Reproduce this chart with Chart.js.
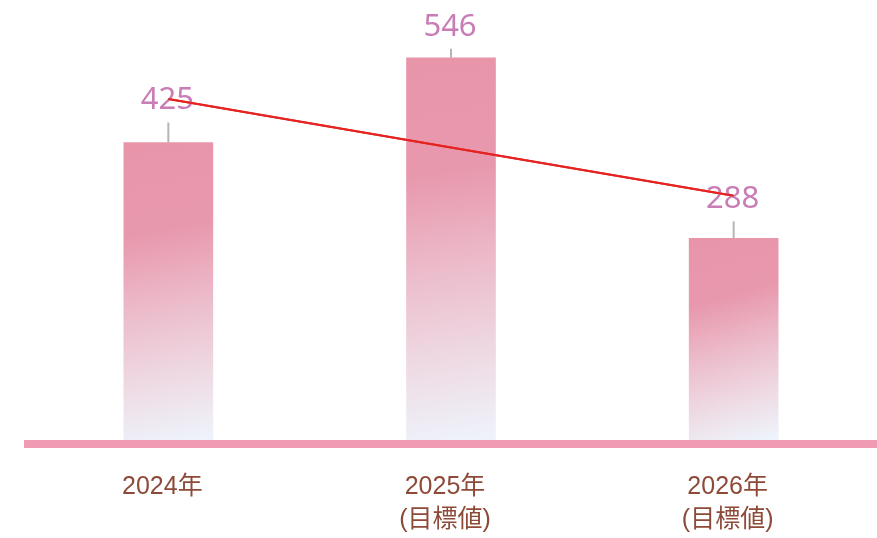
<!DOCTYPE html>
<html>
<head>
<meta charset="utf-8">
<script src="https://cdn.jsdelivr.net/npm/chart.js@4.4.1/dist/chart.umd.min.js"></script>
<style>
  html, body { margin: 0; padding: 0; background: #fff; }
  #wrap { width: 877px; height: 538px; }
</style>
</head>
<body>
<div id="wrap"><canvas id="chart"></canvas></div>
<script>
// データ
const categories = [['2024年'], ['2025年', '(目標値)'], ['2026年', '(目標値)']];
const barValues = [425, 546, 288];
const trendValues = [487, 418, 349];

// ラベル用の目盛り線の長さ（px）
const tickLengths = [20, 9, 17];

// 棒ごとのグラデーション（スケールから位置を計算）
function barGradient(context) {
    const chart = context.chart;
    const xs = chart.scales.x;
    const ys = chart.scales.y;
    if (!xs || !ys || context.dataIndex === undefined) return '#e896ab';
    const x = xs.getPixelForValue(context.dataIndex);
    const top = ys.getPixelForValue(barValues[context.dataIndex]);
    const bottom = ys.getPixelForValue(0);
    if (!isFinite(top) || !isFinite(x)) return '#e896ab';
    const g = chart.ctx.createLinearGradient(x - 30, top, x + 30, bottom);
    g.addColorStop(0, '#e895aa');
    g.addColorStop(0.3, '#e898ad');
    g.addColorStop(0.55, '#ecbccb');
    g.addColorStop(0.8, '#eedce5');
    g.addColorStop(1, '#eef3fb');
    return g;
}

// X軸の太いピンク線
const axisLine = {
    id: 'axisLine',
    beforeDatasetsDraw(chart) {
        const ctx = chart.ctx;
        const y = chart.scales.y.getPixelForValue(0);
        ctx.save();
        ctx.fillStyle = '#f09bb4';
        ctx.fillRect(24, y, chart.width - 24, 8);
        ctx.restore();
    }
};

// 値ラベルと目盛り線
const valueLabels = {
    id: 'valueLabels',
    afterDatasetsDraw(chart) {
        const ctx = chart.ctx;
        const meta = chart.getDatasetMeta(0);
        ctx.save();
        meta.data.forEach((bar, i) => {
            const tickTop = bar.y - tickLengths[i];
            ctx.strokeStyle = '#b5b5b5';
            ctx.lineWidth = 2;
            ctx.beginPath();
            ctx.moveTo(bar.x, bar.y);
            ctx.lineTo(bar.x, tickTop);
            ctx.stroke();
            ctx.fillStyle = '#c97db6';
            ctx.font = '31px "Noto Sans", sans-serif';
            ctx.textAlign = 'center';
            ctx.textBaseline = 'middle';
            ctx.fillText(barValues[i], bar.x - 1, tickTop - 22);
        });
        ctx.restore();
    }
};

// 折れ線を最前面に描く
const lineOnTop = {
    id: 'lineOnTop',
    afterDraw(chart) {
        chart.getDatasetMeta(1).controller.draw();
    }
};

function renderChart() {
    const ctx = document.getElementById('chart').getContext('2d');
    new Chart(ctx, {
        data: {
            labels: categories,
            datasets: [{
                type: 'bar',
                data: barValues,
                backgroundColor: barGradient,
                barThickness: 89,
                order: 2
            }, {
                type: 'line',
                data: trendValues,
                borderColor: '#e52321',
                borderWidth: 2,
                pointRadius: 0,
                fill: false,
                tension: 0,
                order: 1
            }]
        },
        options: {
            responsive: true,
            maintainAspectRatio: false,
            animation: false,
            layout: { padding: { left: 27, right: 2, top: 20, bottom: 0 } },
            plugins: {
                legend: { display: false },
                tooltip: { enabled: false }
            },
            scales: {
                x: {
                    grid: { display: false, drawTicks: false },
                    border: { display: false },
                    ticks: {
                        color: '#8e4a38',
                        font: { family: '"Liberation Sans", "Noto Sans CJK JP", sans-serif', size: 25, lineHeight: 1.32 },
                        padding: 31,
                        labelOffset: -6,
                        maxRotation: 0
                    },
                    afterFit: s => { s.height = 98; }
                },
                y: {
                    display: false,
                    min: 0,
                    max: 600
                }
            }
        },
        plugins: [axisLine, valueLabels, lineOnTop]
    });
}

document.addEventListener('DOMContentLoaded', () => {
    renderChart();
});
</script>
</body>
</html>
